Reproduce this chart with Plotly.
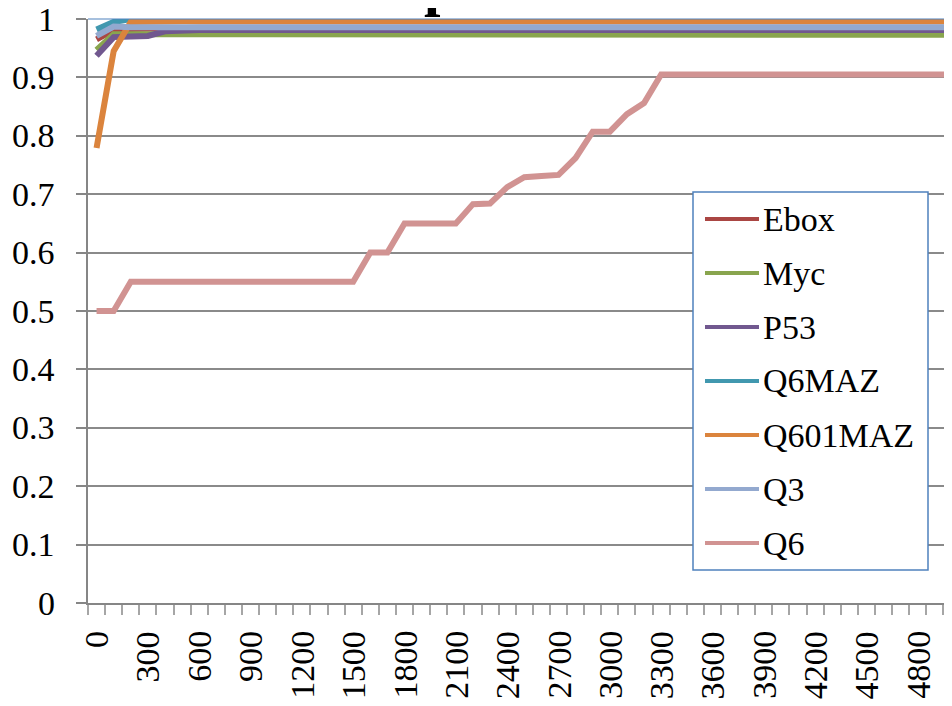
import plotly.graph_objects as go

# x categories (every 100) and series values
categories = list(range(0, 5001, 100))
x_tick_labels = categories[::3]          # 0, 300, 600, ...
y_tick_values = [0, 0.1, 0.2, 0.3, 0.4, 0.5, 0.6, 0.7, 0.8, 0.9, 1]
y_tick_labels = ['0', '0.1', '0.2', '0.3', '0.4', '0.5', '0.6', '0.7', '0.8', '0.9', '1']

ebox = [0.965, 0.981, 0.983, 0.984, 0.985, 0.985, 0.985, 0.985, 0.985, 0.985,
        0.985, 0.985, 0.985, 0.985, 0.985, 0.985, 0.985, 0.985, 0.985, 0.985,
        0.985, 0.985, 0.985, 0.985, 0.985, 0.985, 0.985, 0.985, 0.985, 0.985,
        0.985, 0.985, 0.985, 0.985, 0.985, 0.985, 0.985, 0.985, 0.985, 0.985,
        0.985, 0.985, 0.985, 0.985, 0.985, 0.985, 0.985, 0.985, 0.985, 0.985,
        0.985]
myc = [0.947, 0.974, 0.974, 0.974, 0.973, 0.973, 0.973, 0.973, 0.973, 0.973,
       0.973, 0.973, 0.973, 0.973, 0.973, 0.973, 0.973, 0.973, 0.973, 0.973,
       0.973, 0.973, 0.973, 0.973, 0.973, 0.973, 0.973, 0.973, 0.973, 0.973,
       0.973, 0.973, 0.973, 0.973, 0.973, 0.973, 0.973, 0.973, 0.973, 0.973,
       0.973, 0.973, 0.973, 0.973, 0.973, 0.973, 0.973, 0.973, 0.973, 0.973,
       0.973]
p53 = [0.937, 0.969, 0.970, 0.971, 0.979, 0.981, 0.981, 0.981, 0.981, 0.981,
       0.981, 0.981, 0.981, 0.981, 0.981, 0.981, 0.981, 0.981, 0.981, 0.981,
       0.981, 0.981, 0.981, 0.981, 0.981, 0.981, 0.981, 0.981, 0.981, 0.981,
       0.981, 0.981, 0.981, 0.981, 0.981, 0.981, 0.981, 0.981, 0.981, 0.981,
       0.981, 0.981, 0.981, 0.981, 0.981, 0.981, 0.981, 0.981, 0.981, 0.981,
       0.981]
q6maz = [0.982, 0.995, 1.0, 1.0, 1.0, 1.0, 1.0, 1.0, 1.0, 1.0,
         1.0, 1.0, 1.0, 1.0, 1.0, 1.0, 1.0, 1.0, 1.0, 1.0,
         1.0, 1.0, 1.0, 1.0, 1.0, 1.0, 1.0, 1.0, 1.0, 1.0,
         1.0, 1.0, 1.0, 1.0, 1.0, 1.0, 1.0, 1.0, 1.0, 1.0,
         1.0, 1.0, 1.0, 1.0, 1.0, 1.0, 1.0, 1.0, 1.0, 1.0,
         1.0]
q601maz = [0.779, 0.945, 0.995, 0.996, 0.996, 0.996, 0.996, 0.996, 0.996, 0.996,
           0.996, 0.996, 0.996, 0.996, 0.996, 0.996, 0.996, 0.996, 0.996, 0.996,
           0.996, 0.996, 0.996, 0.996, 0.996, 0.996, 0.996, 0.996, 0.996, 0.996,
           0.996, 0.996, 0.996, 0.996, 0.996, 0.996, 0.996, 0.996, 0.996, 0.996,
           0.996, 0.996, 0.996, 0.996, 0.996, 0.996, 0.996, 0.996, 0.996, 0.996,
           0.996]
q3 = [0.971, 0.987, 0.986, 0.986, 0.986, 0.986, 0.986, 0.986, 0.986, 0.986,
      0.986, 0.986, 0.986, 0.986, 0.986, 0.986, 0.986, 0.986, 0.986, 0.986,
      0.986, 0.986, 0.986, 0.986, 0.986, 0.986, 0.986, 0.986, 0.986, 0.986,
      0.986, 0.986, 0.986, 0.986, 0.986, 0.986, 0.986, 0.986, 0.986, 0.986,
      0.986, 0.986, 0.986, 0.986, 0.986, 0.986, 0.986, 0.986, 0.986, 0.986,
      0.986]
q6 = [0.5, 0.5, 0.55, 0.55, 0.55, 0.55, 0.55, 0.55, 0.55, 0.55,
      0.55, 0.55, 0.55, 0.55, 0.55, 0.55, 0.6, 0.6, 0.65, 0.65,
      0.65, 0.65, 0.683, 0.684, 0.712, 0.729, 0.731, 0.733, 0.762, 0.807,
      0.807, 0.837, 0.856, 0.905, 0.905, 0.905, 0.905, 0.905, 0.905, 0.905,
      0.905, 0.905, 0.905, 0.905, 0.905, 0.905, 0.905, 0.905, 0.905, 0.905,
      0.905]

names = ['Ebox', 'Myc', 'P53', 'Q6MAZ', 'Q601MAZ', 'Q3', 'Q6']
series = [ebox, myc, p53, q6maz, q601maz, q3, q6]
colors = ['#AA4643', '#89A54E', '#71588F', '#4198AF', '#DB843D', '#93A9CF', '#D19392']

FONT = 'Liberation Serif'
txt_font = dict(family=FONT, size=34, color='black')

fig = go.Figure()
for name, vals, col in zip(names, series, colors):
    fig.add_trace(go.Scatter(x=categories, y=vals, name=name, mode='lines',
                             line=dict(color=col, width=6), showlegend=False))

# the page body has an 8px margin, so the figure is 8px smaller than the window
fig.update_layout(
    width=944, height=698,
    margin=dict(l=80, r=0, t=11, b=103),
    plot_bgcolor='white', paper_bgcolor='white',
    font=txt_font,
)

fig.update_xaxes(range=[-50, 5000], showticklabels=False, ticks='',
                 minor=dict(tick0=-50, dtick=100, ticks='outside', ticklen=10,
                            tickcolor='#A6A6A6', tickwidth=2, showgrid=False),
                 showgrid=False, zeroline=False, automargin=False,
                 showline=True, linecolor='#868686', linewidth=2)
fig.update_yaxes(range=[0, 1], tickvals=y_tick_values, showticklabels=False,
                 ticks='outside', ticklen=10, tickcolor='#868686', tickwidth=2,
                 automargin=False,
                 showgrid=True, gridcolor='#8A8A8A', gridwidth=2, zeroline=False,
                 showline=True, linecolor='#868686', linewidth=2)

# tick labels as text so they keep the serif face
for v, lab in zip(y_tick_values, y_tick_labels):
    fig.add_annotation(text=lab, xref='paper', x=0, yref='y', y=v,
                       xanchor='right', yanchor='middle', xshift=-31,
                       showarrow=False, font=txt_font)
for c in x_tick_labels:
    fig.add_annotation(text=str(c), xref='x', x=c, yref='paper', y=0,
                       xanchor='center', yanchor='top', yshift=-26, textangle=-90,
                       showarrow=False, font=txt_font)

# thin blue border along the top of the plot area
fig.add_shape(type='line', xref='paper', yref='paper', x0=0, x1=1, y0=1, y1=1,
              line=dict(color='#4F81BD', width=1))

# title, cut off by the top edge of the picture
fig.add_annotation(text='<b>p</b>', xref='paper', yref='paper', x=0.387, y=1,
                   xanchor='left', yanchor='top', yshift=70, showarrow=False,
                   font=dict(family=FONT, size=59, color='black'))

# legend box drawn by hand (page pixels -> paper coords)
def px_x(px):
    return (px - 88) / 864

def px_y(py):
    return (603 - py) / 584

fig.add_shape(type='rect', xref='paper', yref='paper',
              x0=px_x(693), x1=px_x(928), y0=px_y(570), y1=px_y(192),
              fillcolor='white', line=dict(color='#4F81BD', width=1.5))
for i, (name, col) in enumerate(zip(names, colors)):
    yc = 219 + 54 * i
    fig.add_shape(type='line', xref='paper', yref='paper',
                  x0=px_x(705), x1=px_x(759), y0=px_y(yc), y1=px_y(yc),
                  line=dict(color=col, width=4))
    fig.add_annotation(text=name, xref='paper', yref='paper',
                       x=px_x(761), y=px_y(yc), xanchor='left', yanchor='middle',
                       showarrow=False, font=txt_font)

fig.write_html("out.html")
